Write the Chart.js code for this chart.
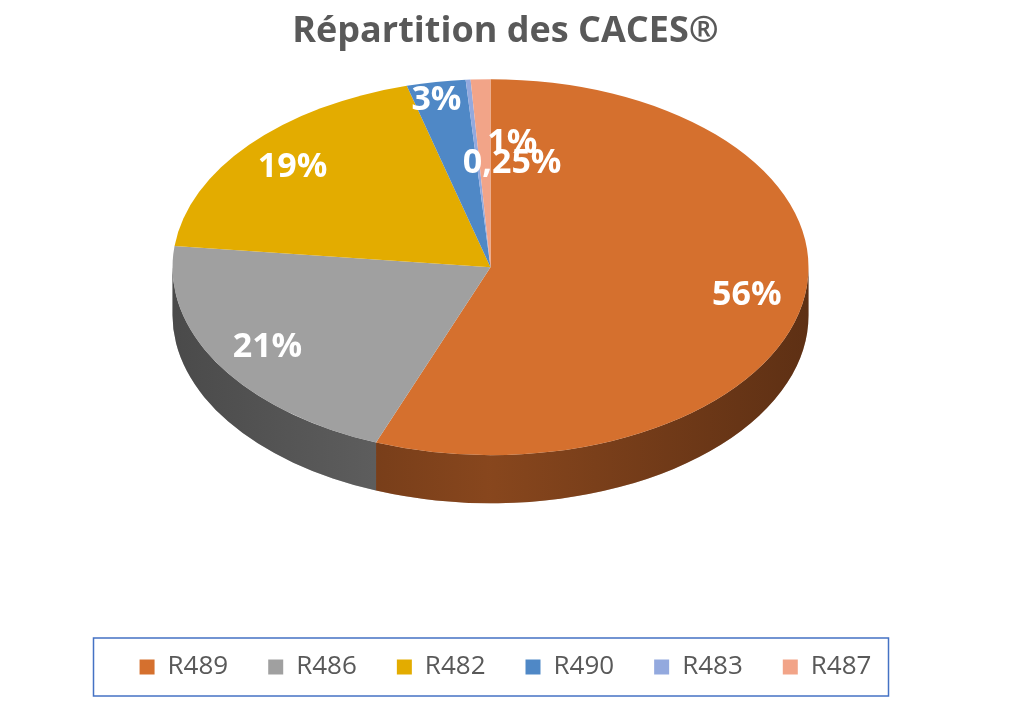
<!DOCTYPE html>
<html>
<head>
<meta charset="utf-8">
<script src="https://cdn.jsdelivr.net/npm/chart.js@4"></script>
<style>
  body { margin: 0; background: #fff; }
  #wrap { width: 1011px; height: 708px; }
</style>
</head>
<body>
<div id="wrap"><canvas id="pie"></canvas></div>
<script>
const categories = ['R489', 'R486', 'R482', 'R490', 'R483', 'R487'];
const shares = [56, 21, 19, 3, 0.25, 1];
const shareLabels = ['56%', '21%', '19%', '3%', '0,25%', '1%'];
const colors = ['#D5702E', '#A0A0A0', '#E3AC00', '#4F88C6', '#93A9DE', '#F2A488'];
const sideColors = ['#5E3014', '#4A4A4A', '#6A5000', '#24415E', '#44506A', '#744E40'];

// flat pie from the arc elements, drawn as a tilted disc with a side wall
const tiltedPie = {
    id: 'tiltedPie',
    beforeDatasetsDraw(chart) {
        const ctx = chart.ctx;
        const area = chart.chartArea;
        const rx = 318, ry = 188, depth = 48;
        const cx = (area.left + area.right) / 2 - 15;
        const cy = area.top + ry + 16;
        const arcs = chart.getDatasetMeta(0).data;

        // side wall, only the front half is visible
        arcs.forEach((arc, i) => {
            const a0 = Math.max(arc.startAngle, 0);
            const a1 = Math.min(arc.endAngle, Math.PI);
            if (a1 <= a0) return;
            const g = ctx.createLinearGradient(cx - rx, 0, cx + rx, 0);
            g.addColorStop(0, sideColors[i]);
            g.addColorStop(0.5, colors[i]);
            g.addColorStop(1, sideColors[i]);
            ctx.save();
            ctx.beginPath();
            ctx.ellipse(cx, cy, rx, ry, 0, a0, a1);
            ctx.ellipse(cx, cy + depth, rx, ry, 0, a1, a0, true);
            ctx.closePath();
            ctx.fillStyle = sideColors[i];
            ctx.fill();
            ctx.globalAlpha = 0.35;
            ctx.fillStyle = g;
            ctx.fill();
            ctx.restore();
        });

        // top surface
        arcs.forEach((arc, i) => {
            ctx.beginPath();
            ctx.moveTo(cx, cy);
            ctx.ellipse(cx, cy, rx, ry, 0, arc.startAngle, arc.endAngle);
            ctx.closePath();
            ctx.fillStyle = colors[i];
            ctx.fill();
        });

        // labels
        const nudge = [[0, 0], [0, 0], [0, 0], [-5, 0], [40, 50], [30, 30]];
        ctx.save();
        ctx.font = 'bold 34px "Open Sans", "Liberation Sans", sans-serif';
        ctx.fillStyle = '#fff';
        ctx.textAlign = 'center';
        ctx.textBaseline = 'middle';
        arcs.forEach((arc, i) => {
            const mid = (arc.startAngle + arc.endAngle) / 2;
            const f = i === 3 ? 0.9 : 0.82;
            const x = cx + rx * f * Math.cos(mid) + nudge[i][0];
            const y = cy + ry * f * Math.sin(mid) + nudge[i][1];
            ctx.fillText(shareLabels[i], x, y);
        });
        ctx.restore();
        return false;
    },
    afterDraw(chart) {
        const lg = chart.legend;
        if (!lg || !lg.legendHitBoxes.length) return;
        const boxes = lg.legendHitBoxes;
        const ctx = chart.ctx;
        ctx.save();
        ctx.strokeStyle = '#4472C4';
        ctx.lineWidth = 1.5;
        ctx.strokeRect(93.5, boxes[0].top - 16, 795, boxes[0].height + 32);
        ctx.restore();
    }
};

new Chart(document.getElementById('pie'), {
    type: 'pie',
    data: {
        labels: categories,
        datasets: [{ data: shares, backgroundColor: colors, borderWidth: 0 }]
    },
    options: {
        responsive: true,
        maintainAspectRatio: false,
        animation: false,
        layout: { padding: { top: 0, bottom: 18, left: 0, right: 0 } },
        plugins: {
            title: {
                display: true,
                text: 'Répartition des CACES®',
                color: '#595959',
                font: { family: '"Open Sans", "Liberation Sans", sans-serif', size: 36, weight: 'bold' },
                padding: { top: 10, bottom: 10 }
            },
            legend: {
                position: 'bottom',
                labels: {
                    color: '#595959',
                    font: { family: '"Open Sans", "Liberation Sans", sans-serif', size: 26 },
                    boxWidth: 15,
                    boxHeight: 15,
                    padding: 40
                }
            },
            tooltip: { enabled: false }
        }
    },
    plugins: [tiltedPie]
});
</script>
</body>
</html>
